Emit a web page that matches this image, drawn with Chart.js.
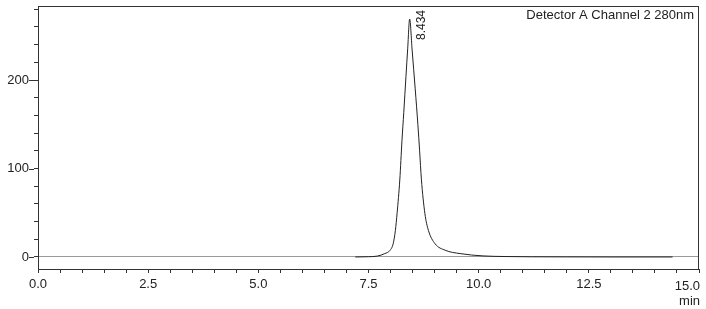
<!DOCTYPE html>
<html>
<head>
<meta charset="utf-8">
<script src="https://cdn.jsdelivr.net/npm/chart.js"></script>
<style>
  html, body { margin: 0; padding: 0; background: #fff; }
  canvas { display: block; }
</style>
</head>
<body>
<canvas id="chrom" width="706" height="309"></canvas>
<script>
// retention time (min) and detector response (mAU)
let times = [7.2, 7.5, 7.7, 7.87, 7.99, 8.06, 8.11, 8.15, 8.21, 8.26, 8.30, 8.35, 8.39, 8.434,
  8.49, 8.56, 8.62, 8.66, 8.70, 8.78, 8.86, 9.01, 9.24, 9.58, 10.1, 10.6, 11.2, 12.0, 13.0, 14.4];
let signal = [0, 0.3, 1, 3.8, 7.6, 15, 30, 50, 87, 132, 163, 204, 236, 269,
  234, 190, 150, 120, 88, 49, 30, 15, 7.6, 3.8, 1.2, 0.5, 0.2, 0.1, 0, 0];

let peakTime = 8.434;
let peakLabel = '8.434';
let detectorTitle = 'Detector A Channel 2 280nm';
let xUnit = 'min';
let xTicks = [0, 2.5, 5, 7.5, 10, 12.5, 15];
let yTicks = [0, 100, 200];

const FONT = 'Liberation Sans, Arial, sans-serif';
const INK = '#222';
const AXIS = '#333';

let points = times.map((t, i) => ({ x: t, y: signal[i] }));

let extras = {
  id: 'extras',
  afterDraw(chart) {
    const c = chart.ctx;
    const a = chart.chartArea;
    const xs = chart.scales.x;
    const ys = chart.scales.y;
    c.save();
    // frame
    c.strokeStyle = AXIS;
    c.lineWidth = 1;
    c.strokeRect(a.left + 0.5, a.top + 0.5, a.right - a.left - 1, a.bottom - a.top);
    // longer major ticks on y
    c.beginPath();
    yTicks.forEach(v => {
      const py = Math.round(ys.getPixelForValue(v)) + 0.5;
      c.moveTo(a.left - 9, py);
      c.lineTo(a.left - 4, py);
    });
    c.stroke();
    // detector title
    c.fillStyle = INK;
    c.font = '13px ' + FONT;
    c.textAlign = 'right';
    c.textBaseline = 'alphabetic';
    c.fillText(detectorTitle, a.right - 5, a.top + 13);
    // last x label clamped at the right end, then unit
    const last = xTicks[xTicks.length - 1];
    c.fillText(last.toFixed(1), xs.getPixelForValue(last) + 1, a.bottom + 21);
    c.fillText(xUnit, a.right + 1, a.bottom + 36);
    // peak label, rotated
    const px = xs.getPixelForValue(peakTime);
    const py = ys.getPixelForValue(Math.max(...signal));
    c.translate(px + 15, py + 21);
    c.rotate(-Math.PI / 2);
    c.textAlign = 'left';
    c.font = '12px ' + FONT;
    c.fillText(peakLabel, 0, 0);
    c.restore();
  }
};

let ctx = document.getElementById('chrom');
let chart = new Chart(ctx, {
  type: 'line',
  data: {
    datasets: [{
      data: points,
      borderColor: INK,
      borderWidth: 1,
      pointRadius: 0,
      fill: false,
      cubicInterpolationMode: 'monotone'
    }]
  },
  options: {
    responsive: false,
    animation: false,
    layout: { padding: { top: 6, right: 7, left: 0, bottom: 0 } },
    plugins: { legend: { display: false }, tooltip: { enabled: false } },
    scales: {
      x: {
        type: 'linear',
        min: 0,
        max: 15,
        afterFit: s => { s.height = 40; s.paddingLeft = 0; s.paddingRight = 0; },
        border: { color: AXIS },
        grid: { drawOnChartArea: false, tickLength: 4, tickColor: AXIS },
        ticks: {
          stepSize: 0.5,
          maxTicksLimit: 40,
          autoSkip: false,
          maxRotation: 0,
          padding: 4,
          color: INK,
          font: { family: FONT, size: 13 },
          callback: v => (xTicks.includes(v) && v !== 15) ? v.toFixed(1) : ''
        }
      },
      y: {
        min: -13.6,
        max: 283.7,
        afterFit: s => { s.width = 38; s.paddingTop = 0; s.paddingBottom = 0; },
        border: { color: AXIS },
        grid: {
          tickLength: 4,
          tickColor: AXIS,
          color: c => (c.tick && c.tick.value === 0) ? '#9a9a9a' : 'rgba(0,0,0,0)'
        },
        ticks: {
          stepSize: 20,
          maxTicksLimit: 40,
          includeBounds: false,
          autoSkip: false,
          padding: 5,
          color: INK,
          font: { family: FONT, size: 13 },
          callback: v => yTicks.includes(v) ? v : ''
        }
      }
    }
  },
  plugins: [extras]
});
</script>
</body>
</html>
